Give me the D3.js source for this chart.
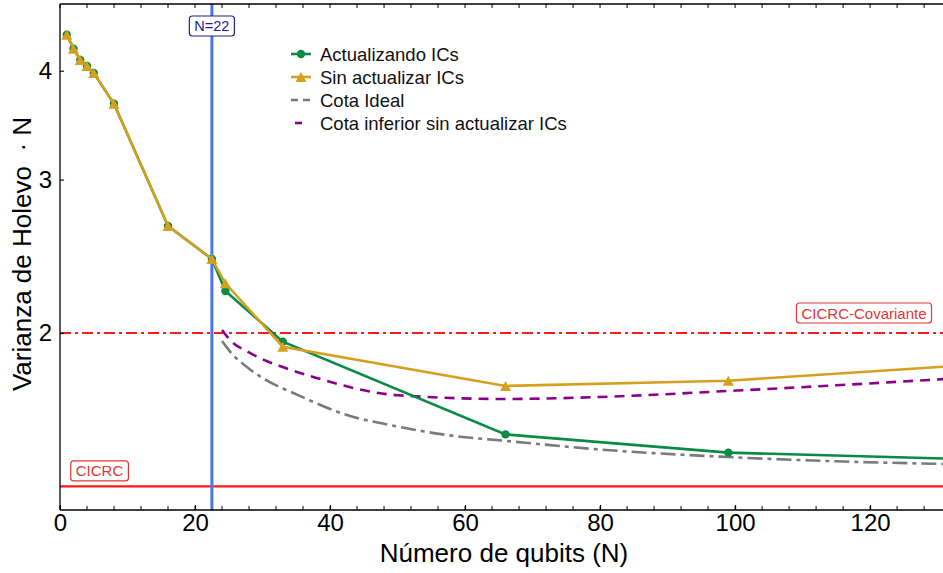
<!DOCTYPE html>
<html>
<head>
<meta charset="utf-8">
<script src="https://cdn.jsdelivr.net/npm/d3@7"></script>
<style>
  html, body { margin: 0; padding: 0; background: #fff; }
  svg { display: block; font-family: "Liberation Sans", Arial, sans-serif; }
</style>
</head>
<body>
<svg id="chart" width="943" height="573"></svg>
<script>
// Measured points: number of qubits N and Holevo variance · N
const nQubits = [1, 2, 3, 4, 5, 8, 16, 22.5, 24.5, 33, 66, 99, 132];
const actualizando = [4.40, 4.24, 4.115, 4.05, 3.976, 3.665, 2.654, 2.432, 2.235, 1.955, 1.530, 1.458, 1.435];
const sinActualizar = [4.40, 4.24, 4.115, 4.05, 3.976, 3.665, 2.654, 2.432, 2.281, 1.929, 1.739, 1.763, 1.832];

// Bound curves
const nIdeal = [24, 25.2, 28, 30, 35.6, 42, 50, 58, 66, 80, 99, 115, 131];
const cotaIdeal = [1.958, 1.904, 1.820, 1.776, 1.693, 1.615, 1.562, 1.525, 1.504, 1.470, 1.441, 1.425, 1.415];
const nInferior = [24, 25.2, 28, 30, 33, 38, 50, 66, 80, 99, 115, 131];
const cotaInferior = [2.016, 1.963, 1.900, 1.866, 1.828, 1.776, 1.697, 1.680, 1.689, 1.716, 1.742, 1.771];

// Reference levels
const cicrc = 4 / 3;
const cicrcCovariante = 2;
const nCorte = 22.5;

const xTicks = [0, 20, 40, 60, 80, 100, 120];
const yTicks = [2, 3, 4];
const legendLabels = ["Actualizando ICs", "Sin actualizar ICs", "Cota Ideal", "Cota inferior sin actualizar ICs"];

const colGreen = "#098a45", colGold = "#d4a020", colGray = "#7a7a7a", colPurple = "#8b008b";
const colRed = "#ff1a1a", colBlue = "#4a74f0", colNavy = "#1f2090";

const svg = d3.select("#chart");
const pLeft = 60, pTop = 4, pRight = 943, pBottom = 510;

const x = d3.scaleLinear().domain([0, 130.8]).range([pLeft, pRight]);
const y = d3.scaleLog().domain([1.2529, 4.771]).range([pBottom, pTop]);

svg.append("defs").append("clipPath").attr("id", "plot")
  .append("rect").attr("x", pLeft).attr("y", pTop).attr("width", pRight - pLeft).attr("height", pBottom - pTop);

const plot = svg.append("g").attr("clip-path", "url(#plot)");

// Horizontal reference lines
plot.append("line")
  .attr("x1", pLeft).attr("x2", pRight)
  .attr("y1", y(cicrcCovariante)).attr("y2", y(cicrcCovariante))
  .attr("stroke", colRed).attr("stroke-width", 2).attr("stroke-dasharray", "11,4,3,4");
plot.append("line")
  .attr("x1", pLeft).attr("x2", pRight)
  .attr("y1", y(cicrc)).attr("y2", y(cicrc))
  .attr("stroke", colRed).attr("stroke-width", 2.2);

// Vertical line at the cut
plot.append("line")
  .attr("x1", x(nCorte)).attr("x2", x(nCorte))
  .attr("y1", pTop).attr("y2", pBottom)
  .attr("stroke", colBlue).attr("stroke-width", 3);

const line = d3.line().x(d => x(d[0])).y(d => y(d[1]));
const smooth = d3.line().x(d => x(d[0])).y(d => y(d[1])).curve(d3.curveMonotoneX);

// Bound curves
plot.append("path").datum(d3.zip(nIdeal, cotaIdeal))
  .attr("d", smooth).attr("fill", "none").attr("stroke", colGray)
  .attr("stroke-width", 2.6).attr("stroke-dasharray", "15,5,4,5");
plot.append("path").datum(d3.zip(nInferior, cotaInferior))
  .attr("d", smooth).attr("fill", "none").attr("stroke", colPurple)
  .attr("stroke-width", 2.6).attr("stroke-dasharray", "10,7");

// Series lines and markers
const greenData = d3.zip(nQubits, actualizando);
const goldData = d3.zip(nQubits, sinActualizar);

plot.append("path").datum(greenData)
  .attr("d", line).attr("fill", "none").attr("stroke", colGreen).attr("stroke-width", 2.6);
plot.selectAll("circle.act").data(greenData).join("circle").attr("class", "act")
  .attr("cx", d => x(d[0])).attr("cy", d => y(d[1])).attr("r", 4.2).attr("fill", colGreen);

const tri = (w, h) => `M0,${-h / 2}L${w / 2},${h / 2}L${-w / 2},${h / 2}Z`;
plot.append("path").datum(goldData)
  .attr("d", line).attr("fill", "none").attr("stroke", colGold).attr("stroke-width", 2.6);
plot.selectAll("path.sin").data(goldData).join("path").attr("class", "sin")
  .attr("transform", d => `translate(${x(d[0])},${y(d[1])})`)
  .attr("d", tri(11, 10)).attr("fill", colGold);

// Axes frame
const axisColor = "#000";
svg.append("line").attr("x1", pLeft).attr("x2", pLeft).attr("y1", pTop).attr("y2", pBottom)
  .attr("stroke", axisColor).attr("stroke-width", 1.3);
svg.append("line").attr("x1", pLeft).attr("x2", pRight).attr("y1", pBottom).attr("y2", pBottom)
  .attr("stroke", axisColor).attr("stroke-width", 1.3);
svg.append("line").attr("x1", pLeft).attr("x2", pRight).attr("y1", pTop).attr("y2", pTop)
  .attr("stroke", axisColor).attr("stroke-width", 1.3);

// Bottom axis: inward ticks, minor every 4
const minorX = d3.range(0, 131, 4);
const xAxis = svg.append("g").attr("transform", `translate(0,${pBottom})`)
  .call(d3.axisBottom(x).tickValues(xTicks).tickSize(-5).tickPadding(6).tickFormat(d3.format("d")));
xAxis.select(".domain").remove();
xAxis.selectAll("text").attr("font-size", 24).attr("fill", "#000")
  .attr("font-family", "'Liberation Sans', Arial, sans-serif").attr("dy", "0.72em").attr("y", 4);
xAxis.selectAll("line").attr("stroke-width", 1.1);

const minorG = svg.append("g");
minorX.forEach(v => {
  minorG.append("line").attr("x1", x(v)).attr("x2", x(v)).attr("y1", pBottom).attr("y2", pBottom - 4)
    .attr("stroke", "#000").attr("stroke-width", 1);
  minorG.append("line").attr("x1", x(v)).attr("x2", x(v)).attr("y1", pTop).attr("y2", pTop + 4)
    .attr("stroke", "#000").attr("stroke-width", 1);
});

// Left axis: log scale ticks
const yAxis = svg.append("g").attr("transform", `translate(${pLeft},0)`)
  .call(d3.axisLeft(y).tickValues(yTicks).tickSize(-4).tickPadding(8).tickFormat(d3.format("d")));
yAxis.select(".domain").remove();
yAxis.selectAll("text").attr("font-size", 24).attr("fill", "#000")
  .attr("font-family", "'Liberation Sans', Arial, sans-serif");
yAxis.selectAll("line").attr("stroke-width", 1.1);

// Axis titles
svg.append("text").attr("x", 504).attr("y", 562).attr("text-anchor", "middle")
  .attr("font-size", 26).attr("fill", "#000").text("Número de qubits (N)");
svg.append("text").attr("transform", "translate(31,254) rotate(-90)").attr("text-anchor", "middle")
  .attr("font-size", 26).attr("fill", "#000").attr("xml:space", "preserve")
  .style("white-space", "pre").text("Varianza de Holevo  · N");

// Boxed annotations
function boxLabel(cx, cy, text, color, size) {
  const g = svg.append("g");
  const t = g.append("text").attr("x", cx).attr("y", cy).attr("text-anchor", "middle")
    .attr("dominant-baseline", "central").attr("font-size", size).attr("fill", color).text(text);
  const bb = t.node().getBBox();
  g.insert("rect", "text")
    .attr("x", bb.x - 5).attr("y", cy - 10).attr("width", bb.width + 10).attr("height", 20)
    .attr("rx", 3).attr("fill", "#fff").attr("stroke", color).attr("stroke-width", 1.2);
}
boxLabel(x(nCorte), 26, "N=" + Math.floor(nCorte), colNavy, 14.5);
boxLabel(99.5, y(cicrc) - 15.5, "CICRC", "#e03535", 15);
boxLabel(864, y(cicrcCovariante) - 20, "CICRC-Covariante", "#e03535", 15);

// Legend
const legend = svg.append("g");
const rowY = [54, 77, 100, 123];
const lx0 = 291, lx1 = 311, ltx = 320;
legendLabels.forEach((lab, i) => {
  legend.append("text").attr("x", ltx).attr("y", rowY[i]).attr("dominant-baseline", "central")
    .attr("font-size", 18.5).attr("fill", "#111").text(lab);
});
legend.append("line").attr("x1", lx0).attr("x2", lx1).attr("y1", rowY[0]).attr("y2", rowY[0])
  .attr("stroke", colGreen).attr("stroke-width", 2.6);
legend.append("circle").attr("cx", (lx0 + lx1) / 2).attr("cy", rowY[0]).attr("r", 4.2).attr("fill", colGreen);
legend.append("line").attr("x1", lx0).attr("x2", lx1).attr("y1", rowY[1]).attr("y2", rowY[1])
  .attr("stroke", colGold).attr("stroke-width", 2.6);
legend.append("path").attr("transform", `translate(${(lx0 + lx1) / 2},${rowY[1]})`)
  .attr("d", tri(11, 10)).attr("fill", colGold);
legend.append("line").attr("x1", lx0).attr("x2", lx1).attr("y1", rowY[2]).attr("y2", rowY[2])
  .attr("stroke", colGray).attr("stroke-width", 2.6).attr("stroke-dasharray", "7,5");
legend.append("line").attr("x1", lx0 + 4).attr("x2", lx0 + 11).attr("y1", rowY[3]).attr("y2", rowY[3])
  .attr("stroke", colPurple).attr("stroke-width", 2.6);
</script>
</body>
</html>
